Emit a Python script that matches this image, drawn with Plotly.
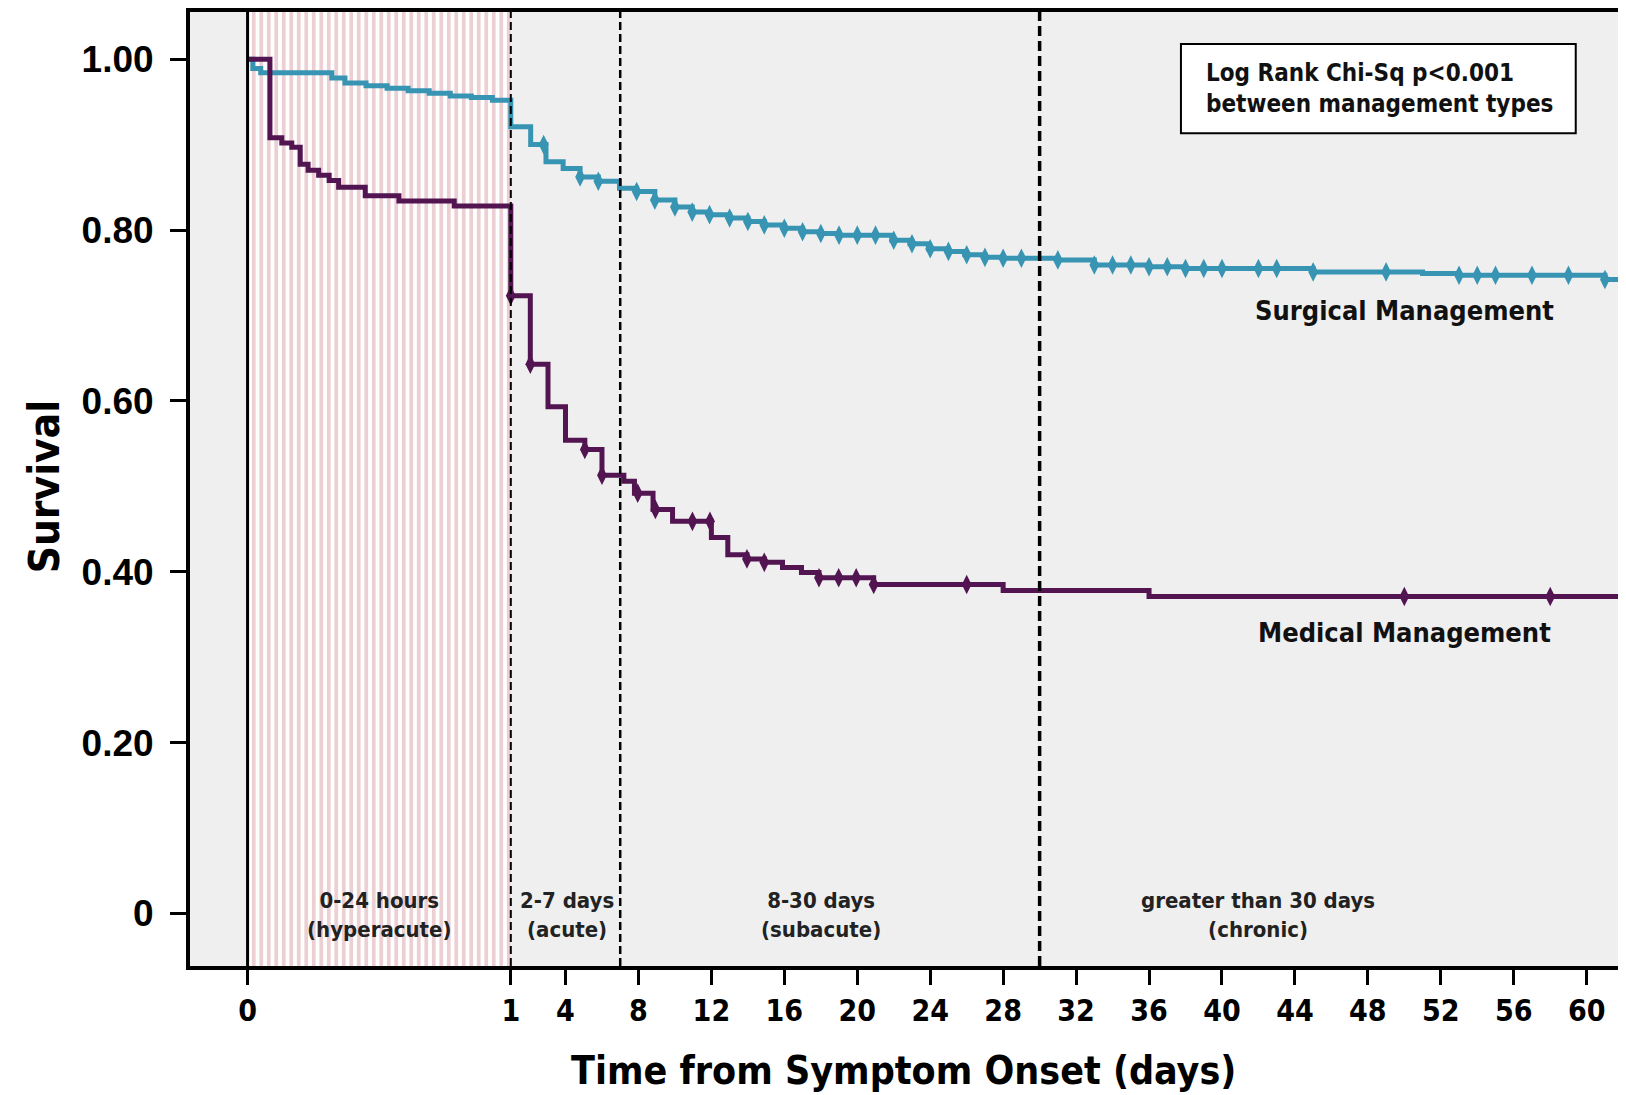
import numpy as np
import plotly.graph_objects as go

# ---------------- data ----------------
surg_days = [0, 0.02, 0.05, 0.32, 0.37, 0.45, 0.53, 0.61, 0.69, 0.77, 0.85, 0.93,
             1.0, 2.09, 2.93, 3.87, 4.8, 5.8, 6.96, 7.9, 8.9, 10.0, 10.95, 11.9,
             13.0, 14.0, 14.9, 16.0, 17.0, 18.0, 19.0, 21.9, 22.9, 23.9, 25.0,
             25.9, 27.0, 28.0, 31.0, 33.0, 36.0, 38.0, 45.0, 51.0, 53.0, 61.0, 62.5]
surg_vals = [1.0, 0.989, 0.984, 0.978, 0.972, 0.969, 0.966, 0.963, 0.960, 0.957, 0.955, 0.952,
             0.921, 0.900, 0.880, 0.872, 0.862, 0.857, 0.849, 0.845, 0.835, 0.827, 0.821, 0.818,
             0.814, 0.810, 0.806, 0.802, 0.798, 0.796, 0.794, 0.788, 0.784, 0.778, 0.775,
             0.771, 0.768, 0.767, 0.765, 0.759, 0.757, 0.755, 0.751, 0.749, 0.747, 0.742, 0.742]
surg_censor = [2.8, 4.8, 5.8, 7.9, 8.9, 10, 10.95, 11.9, 13, 14, 14.9, 16, 17, 18, 19, 20,
               21, 22, 23, 24, 25, 26, 27, 28, 29, 31, 33, 34, 35, 36, 37, 38, 39, 40,
               42, 43, 45, 49, 53, 54, 55, 57, 59, 61]

med_days = [0, 0.085, 0.13, 0.168, 0.2, 0.23, 0.27, 0.31, 0.346, 0.447, 0.575, 0.785,
            1.0, 2.07, 3.04, 4.0, 5.06, 6.0, 7.2, 7.78, 8.8, 9.87, 12.0, 12.9, 13.95,
            14.9, 15.9, 16.94, 17.9, 20.9, 28.0, 36.0, 62.5]
med_vals = [1.0, 0.908, 0.902, 0.897, 0.877, 0.870, 0.864, 0.858, 0.850, 0.840, 0.834, 0.828,
            0.723, 0.643, 0.593, 0.554, 0.543, 0.513, 0.506, 0.492, 0.473, 0.459, 0.440,
            0.420, 0.415, 0.411, 0.405, 0.399, 0.393, 0.385, 0.378, 0.371, 0.371]
med_censor = [1.0, 2.07, 5.06, 6.0, 7.96, 8.93, 10.96, 11.92, 13.95, 14.9, 17.9, 18.98,
              19.94, 20.9, 26.0, 50.0, 58.0]

period_bounds = [0, 1, 7, 30]
period_labels = ["0-24 hours<br>(hyperacute)", "2-7 days<br>(acute)",
                 "8-30 days<br>(subacute)", "greater than 30 days<br>(chronic)"]
period_label_days = [0.5, 4.1, 18.0, 42.0]

x_tick_days = [0, 1, 4, 8, 12, 16, 20, 24, 28, 32, 36, 40, 44, 48, 52, 56, 60]
y_tick_vals = [0, 0.2, 0.4, 0.6, 0.8, 1.0]
y_tick_text = ["0", "0.20", "0.40", "0.60", "0.80", "1.00"]

# ---------------- axis transform (first day stretched) ----------------
K = 262 / 18.15


def tx(days):
    d = np.asarray(days, dtype=float)
    return np.where(d <= 1, d * K, K + (d - 1))


def step_lookup(days, vals, t):
    idx = np.searchsorted(np.asarray(days), t, side="right") - 1
    return np.asarray(vals)[idx]


TEAL = "#3794b3"
PURPLE = "#521552"
NARROW = "Liberation Sans Narrow, Arial Narrow, DejaVu Sans Condensed, sans-serif"
SANS = "Liberation Sans, Arial, sans-serif"

YMIN, YMAX = -0.0615, 1.0552
XMIN, XMAX = -3.157, 76.03

fig = go.Figure()

# hyperacute hatched band
x0, x1 = tx([period_bounds[0], period_bounds[1]])
fig.add_trace(go.Scatter(
    x=[x0, x1, x1, x0, x0], y=[YMIN, YMIN, YMAX, YMAX, YMIN],
    mode="lines", line=dict(width=0), fill="toself",
    fillcolor="white",
    fillpattern=dict(shape="|", size=7.5, solidity=0.5, fgcolor="#d9a0a8", bgcolor="white"),
    hoverinfo="skip", showlegend=False))

# survival curves
fig.add_trace(go.Scatter(x=tx(surg_days), y=surg_vals, mode="lines", line_shape="hv",
                         line=dict(color=TEAL, width=5), showlegend=False))
fig.add_trace(go.Scatter(x=tx(med_days), y=med_vals, mode="lines", line_shape="hv",
                         line=dict(color=PURPLE, width=5), showlegend=False))

# censor marks
fig.add_trace(go.Scatter(x=tx(surg_censor), y=step_lookup(surg_days, surg_vals, surg_censor),
                         mode="markers", marker=dict(symbol="diamond-tall", size=14, color=TEAL),
                         showlegend=False))
fig.add_trace(go.Scatter(x=tx(med_censor), y=step_lookup(med_days, med_vals, med_censor),
                         mode="markers", marker=dict(symbol="diamond-tall", size=14, color=PURPLE),
                         showlegend=False))

# period boundary lines
styles = [("solid", 3), ("8px,4px", 2), ("8px,4px", 2.5), ("10px,5px", 3.5)]
for b, (dash, w) in zip(period_bounds, styles):
    xb = float(tx([b])[0])
    fig.add_shape(type="line", x0=xb, x1=xb, y0=0, y1=1, xref="x", yref="y domain",
                  line=dict(color="black", width=w, dash=dash), layer="above")

# period labels
for d, txt in zip(period_label_days, period_labels):
    fig.add_annotation(x=float(tx([d])[0]), y=-0.002, text=txt, showarrow=False,
                       xanchor="center", yanchor="middle",
                       font=dict(family=NARROW, size=22, color="#222", weight="bold"))

# curve labels
fig.add_annotation(x=float(tx([50])[0]), y=0.7055, text="Surgical Management", showarrow=False,
                   font=dict(family=NARROW, size=27, color="#111", weight="bold"))
fig.add_annotation(x=float(tx([50])[0]), y=0.329, text="Medical Management", showarrow=False,
                   font=dict(family=NARROW, size=27, color="#111", weight="bold"))

# log rank box
fig.add_shape(type="rect", x0=float(tx([37.75])[0]), x1=float(tx([59.4])[0]),
              y0=0.9134, y1=1.0178, xref="x", yref="y",
              line=dict(color="black", width=2), fillcolor="white", layer="above")
fig.add_annotation(x=float(tx([39.0])[0]), y=0.966, xanchor="left", yanchor="middle",
                   text="Log Rank Chi-Sq p<0.001<br>between management types", align="left",
                   showarrow=False,
                   font=dict(family=NARROW, size=24, color="#111", weight="bold"))

# axis titles
fig.add_annotation(xref="paper", yref="paper", x=-0.101, y=0.502, text="Survival",
                   textangle=-90, showarrow=False, xanchor="center", yanchor="middle",
                   font=dict(family=NARROW, size=42, color="black", weight="bold"))
fig.add_annotation(xref="paper", yref="paper", x=0.4938, y=-0.110,
                   text="Time from Symptom Onset (days)", showarrow=False,
                   xanchor="center", yanchor="middle",
                   font=dict(family=NARROW, size=39, color="black", weight="bold"))

fig.update_xaxes(range=[XMIN, XMAX], tickmode="array", tickvals=tx(x_tick_days),
                 ticktext=[str(v) for v in x_tick_days], ticks="outside", ticklen=15,
                 tickwidth=3, tickcolor="black", showline=True, linewidth=4, linecolor="black",
                 mirror=True, showgrid=False, zeroline=False,
                 tickfont=dict(family=NARROW, size=30, color="black", weight="bold"))
fig.update_yaxes(range=[YMIN, YMAX], tickmode="array", tickvals=y_tick_vals,
                 ticktext=y_tick_text, ticks="outside", ticklen=16, tickwidth=2.5,
                 tickcolor="black", showline=True, linewidth=4, linecolor="black",
                 showgrid=False, zeroline=False, ticklabelstandoff=9,
                 tickfont=dict(family=SANS, size=37, color="black", weight="bold"))

fig.update_layout(width=1626, height=1095, margin=dict(l=182, r=0, t=4, b=137),
                  plot_bgcolor="#efefef", paper_bgcolor="white", showlegend=False)

fig.write_html("out.html")
